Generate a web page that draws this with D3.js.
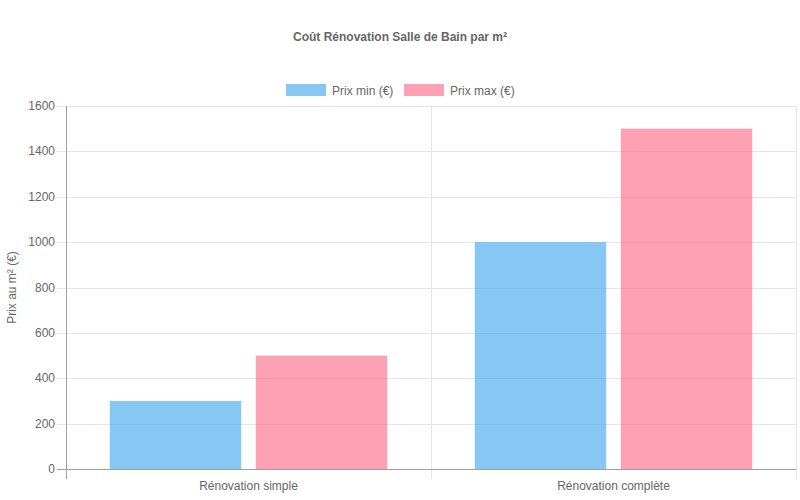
<!DOCTYPE html>
<html>
<head>
<meta charset="utf-8">
<script src="https://cdn.jsdelivr.net/npm/d3@7"></script>
<style>
  body { margin: 0; background: #fff; }
  svg text { font-family: "Liberation Sans", Arial, sans-serif; fill: #666; }
</style>
</head>
<body>
<svg id="chart" width="800" height="500"></svg>
<script>
const categories = ["Rénovation simple", "Rénovation complète"];
const seriesNames = ["Prix min (€)", "Prix max (€)"];
const prixMin = [300, 1000];
const prixMax = [500, 1500];
const yTicks = [0, 200, 400, 600, 800, 1000, 1200, 1400, 1600];

const colors = ["rgba(54,162,235,0.6)", "rgba(255,99,132,0.6)"];

const svg = d3.select("#chart");
const margin = { left: 66, right: 4, top: 106, bottom: 31 };
const width = +svg.attr("width");
const height = +svg.attr("height");

const x = d3.scaleBand()
    .domain(categories)
    .range([margin.left, width - margin.right]);

// bars inside a category: 80% of category, 90% of each slot
const xInner = d3.scaleBand()
    .domain(seriesNames)
    .range([0, x.bandwidth() * 0.8])
    .paddingInner(0.1 / 0.9 * 0.9)
    .paddingOuter(0.05);

const y = d3.scaleLinear()
    .domain([0, 1600])
    .range([height - margin.bottom, margin.top]);

// Title
svg.append("text")
    .attr("x", width / 2)
    .attr("y", 41)
    .attr("text-anchor", "middle")
    .style("font-size", "12px")
    .style("font-weight", "bold")
    .text("Coût Rénovation Salle de Bain par m²");

// Legend
const legend = svg.append("g");
const legendItems = [
    { name: seriesNames[0], x: 286, color: colors[0] },
    { name: seriesNames[1], x: 404, color: colors[1] }
];
legendItems.forEach(d => {
    legend.append("rect")
        .attr("x", d.x).attr("y", 84)
        .attr("width", 40).attr("height", 12)
        .attr("fill", d.color);
    legend.append("text")
        .attr("x", d.x + 46).attr("y", 94.5)
        .style("font-size", "12px")
        .text(d.name);
});

// Horizontal gridlines + y ticks
const grid = svg.append("g");
grid.selectAll("line.h")
    .data(yTicks)
    .join("line")
    .attr("class", "h")
    .attr("x1", margin.left - 9)
    .attr("x2", width - margin.right)
    .attr("y1", d => Math.round(y(d)) + 0.5)
    .attr("y2", d => Math.round(y(d)) + 0.5)
    .attr("stroke", "#e5e5e5");

// Vertical gridlines at category boundaries
const xBounds = [x(categories[1]), width - margin.right];
grid.selectAll("line.v")
    .data(xBounds)
    .join("line")
    .attr("class", "v")
    .attr("x1", d => Math.round(d) + 0.5)
    .attr("x2", d => Math.round(d) + 0.5)
    .attr("y1", margin.top)
    .attr("y2", height - margin.bottom + 10)
    .attr("stroke", "#e5e5e5");

// Bars
const series = [prixMin, prixMax];
const groups = svg.append("g")
    .selectAll("g")
    .data(categories)
    .join("g")
    .attr("transform", d => `translate(${x(d) + x.bandwidth() * 0.1},0)`);

groups.selectAll("rect")
    .data((c, i) => seriesNames.map((s, j) => ({ s, v: series[j][i], color: colors[j] })))
    .join("rect")
    .attr("x", d => xInner(d.s))
    .attr("width", xInner.bandwidth())
    .attr("y", d => y(d.v))
    .attr("height", d => y(0) - y(d.v))
    .attr("fill", d => d.color);

// Axis lines
svg.append("line")
    .attr("x1", margin.left + 0.5).attr("x2", margin.left + 0.5)
    .attr("y1", margin.top).attr("y2", height - margin.bottom + 10)
    .attr("stroke", "#a0a0a0");
svg.append("line")
    .attr("x1", margin.left - 9).attr("x2", width - margin.right)
    .attr("y1", Math.round(y(0)) + 0.5).attr("y2", Math.round(y(0)) + 0.5)
    .attr("stroke", "#a0a0a0");

// Y tick labels
svg.append("g")
    .selectAll("text")
    .data(yTicks)
    .join("text")
    .attr("x", 55)
    .attr("y", d => y(d) + 4)
    .attr("text-anchor", "end")
    .style("font-size", "12px")
    .text(d => d);

// X labels
svg.append("g")
    .selectAll("text")
    .data(categories)
    .join("text")
    .attr("x", d => x(d) + x.bandwidth() / 2)
    .attr("y", 490)
    .attr("text-anchor", "middle")
    .style("font-size", "12px")
    .text(d => d);

// Y axis title
svg.append("text")
    .attr("transform", `translate(16,${(margin.top + height - margin.bottom) / 2}) rotate(-90)`)
    .attr("text-anchor", "middle")
    .style("font-size", "12px")
    .text("Prix au m² (€)");
</script>
</body>
</html>
